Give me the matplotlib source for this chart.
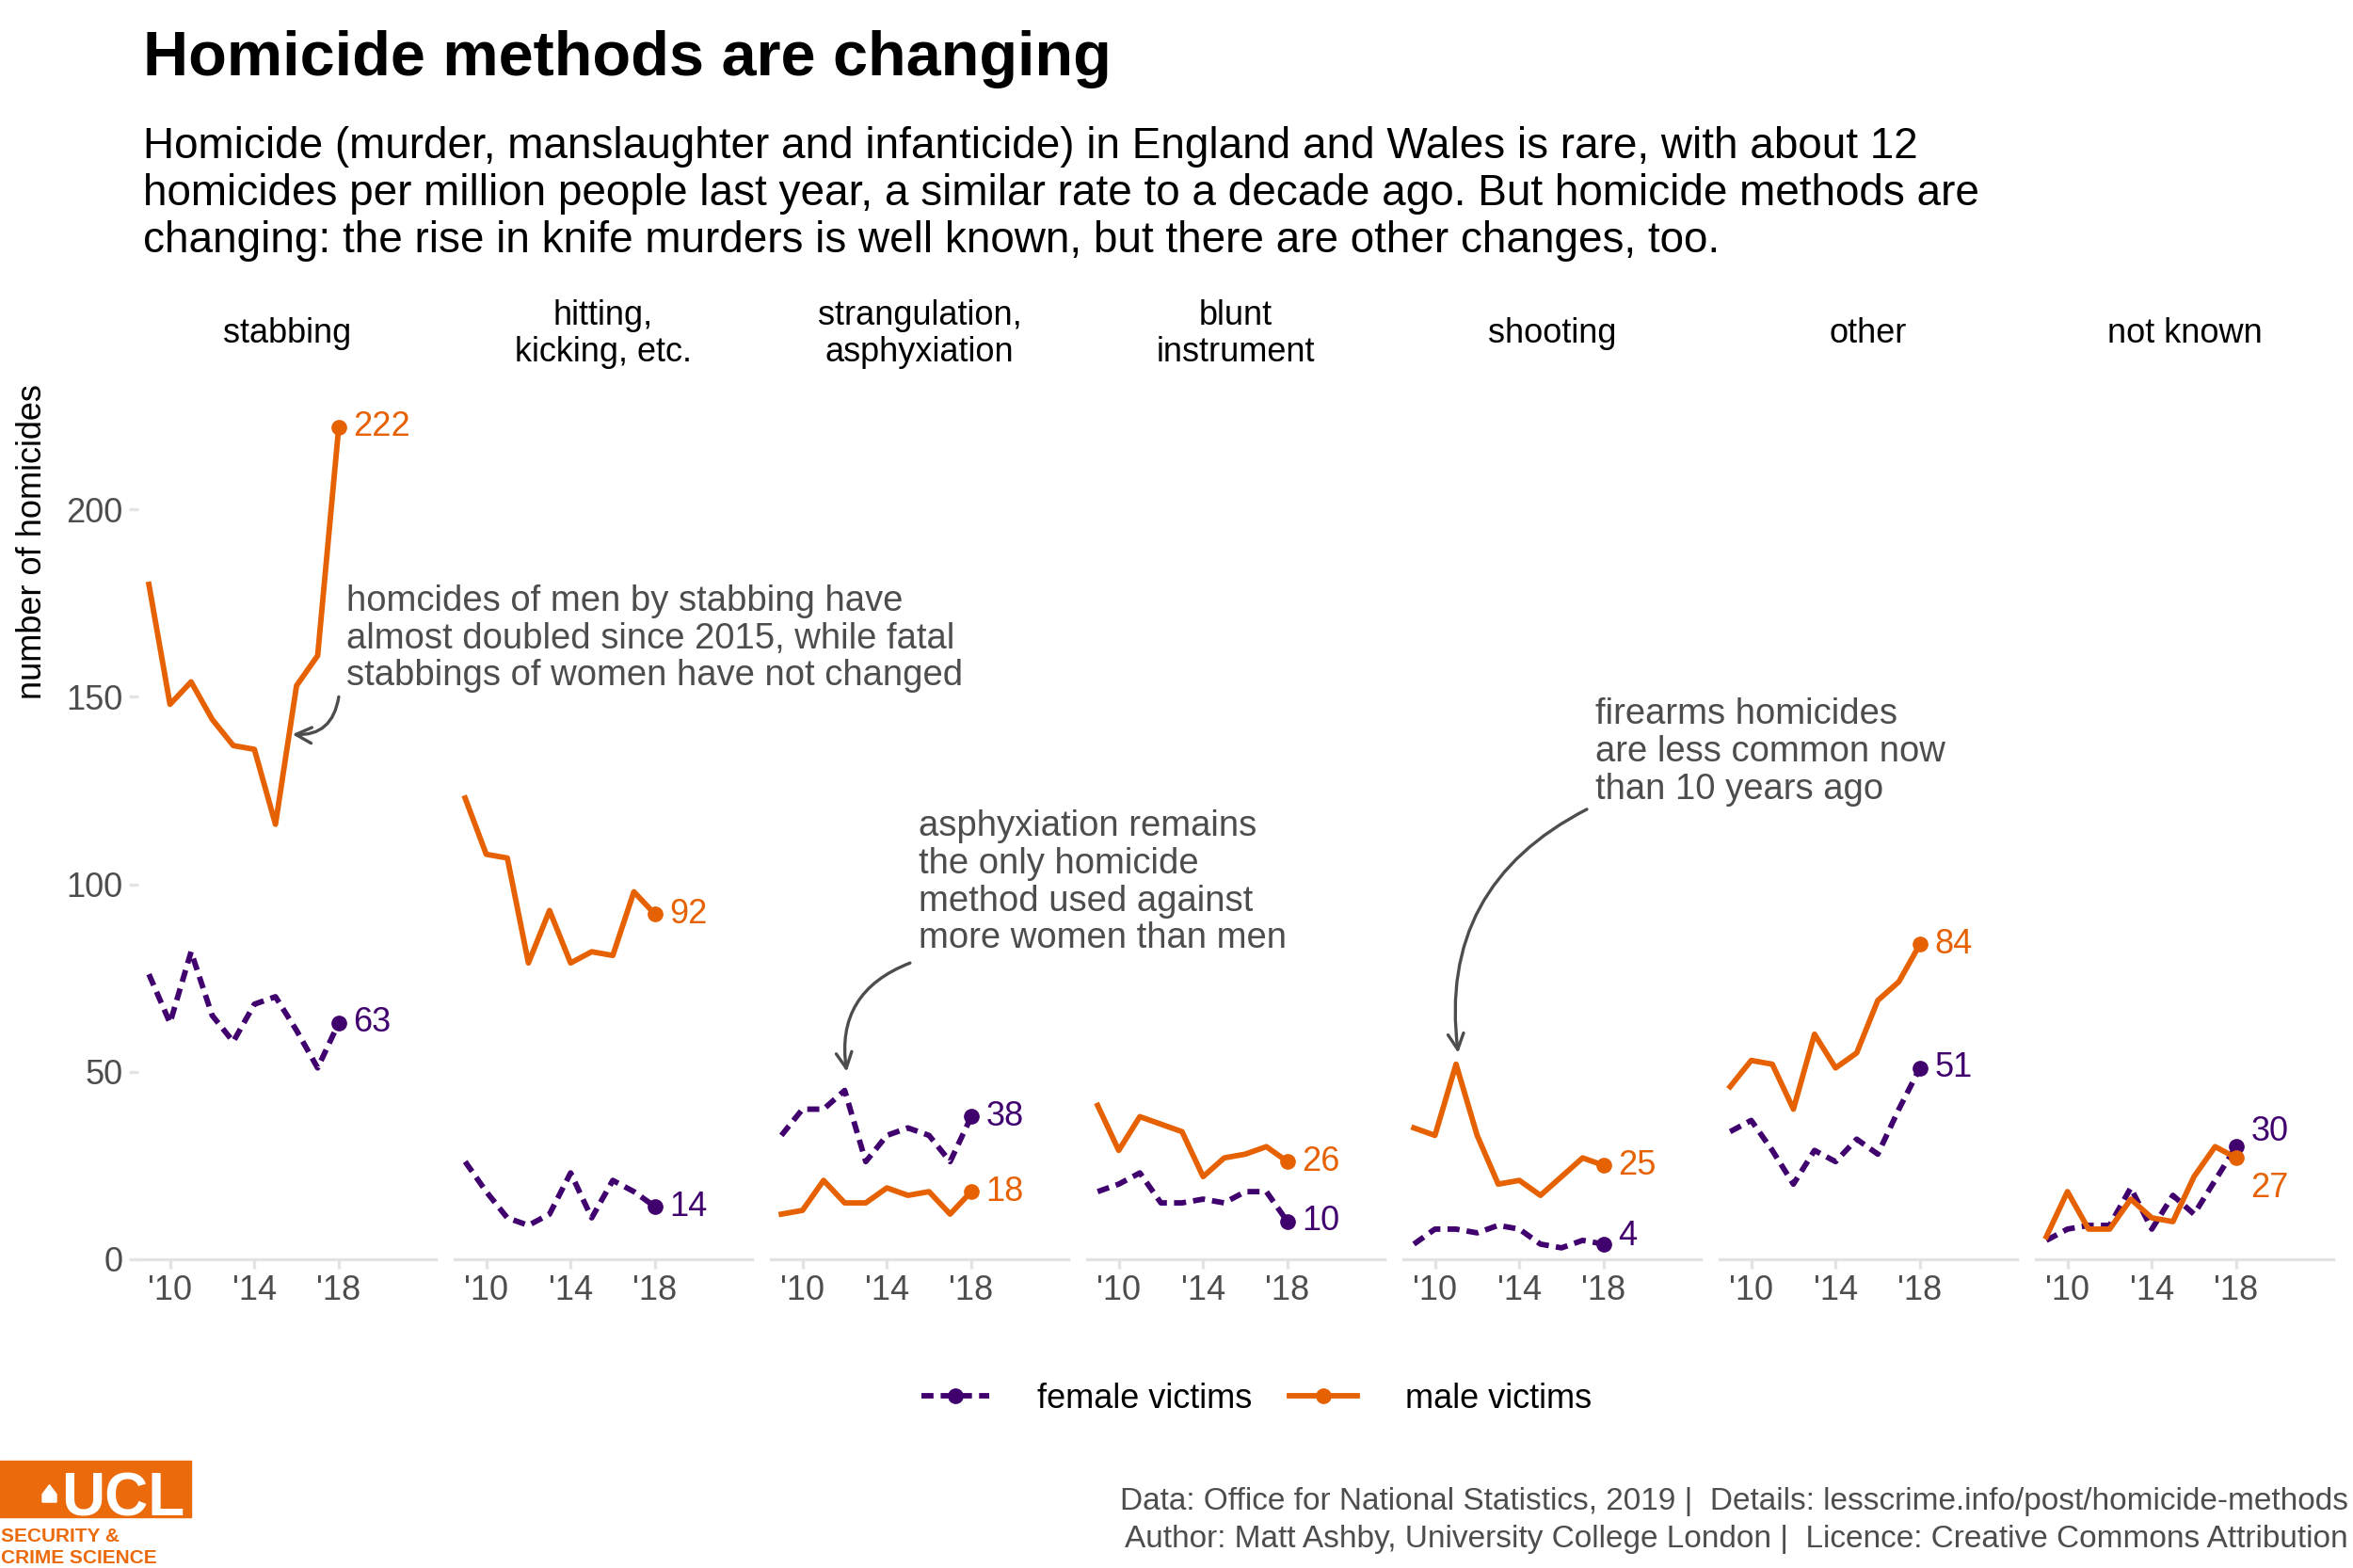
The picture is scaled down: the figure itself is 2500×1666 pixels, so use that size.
import matplotlib
matplotlib.use('Agg')
import matplotlib.pyplot as plt
from matplotlib.lines import Line2D
from matplotlib.patches import Rectangle, Polygon

plt.rcParams['font.family'] = ['Liberation Sans', 'DejaVu Sans']

# homicides in England and Wales by method, 2009-2018
years = [2009, 2010, 2011, 2012, 2013, 2014, 2015, 2016, 2017, 2018]
methods = ['stabbing', 'hitting,\nkicking, etc.', 'strangulation,\nasphyxiation',
           'blunt\ninstrument', 'shooting', 'other', 'not known']

female_stabbing = [76, 63, 82, 65, 58, 68, 70, 61, 51, 63]
female_hitting = [26, 18, 11, 9, 12, 23, 11, 21, 18, 14]
female_strangulation = [33, 40, 40, 45, 26, 33, 35, 33, 26, 38]
female_blunt = [18, 20, 23, 15, 15, 16, 15, 18, 18, 10]
female_shooting = [4, 8, 8, 7, 9, 8, 4, 3, 5, 4]
female_other = [34, 37, 29, 20, 29, 26, 32, 28, 40, 51]
female_unknown = [5, 8, 9, 9, 19, 8, 17, 12, 21, 30]

male_stabbing = [180, 148, 154, 144, 137, 136, 116, 153, 161, 222]
male_hitting = [123, 108, 107, 79, 93, 79, 82, 81, 98, 92]
male_strangulation = [12, 13, 21, 15, 15, 19, 17, 18, 12, 18]
male_blunt = [41, 29, 38, 36, 34, 22, 27, 28, 30, 26]
male_shooting = [35, 33, 52, 33, 20, 21, 17, 22, 27, 25]
male_other = [46, 53, 52, 40, 60, 51, 55, 69, 74, 84]
male_unknown = [6, 18, 8, 8, 16, 11, 10, 22, 30, 27]

female = [female_stabbing, female_hitting, female_strangulation, female_blunt,
          female_shooting, female_other, female_unknown]
male = [male_stabbing, male_hitting, male_strangulation, male_blunt,
        male_shooting, male_other, male_unknown]

x_ticks = [2010, 2014, 2018]
x_labels = ["'10", "'14", "'18"]
y_ticks = [0, 50, 100, 150, 200]

FEM = '#40006e'
MAL = '#e66101'
GREY = '#4d4d4d'
LIGHT = '#e3e3e3'
LW = 4.2
DASH = (2.2, 1.3)
MS = 11

# small vertical nudges for end labels that would overlap
nudge = {(6, 'f'): 4, (6, 'm'): -8, (4, 'f'): 2}

fig = plt.figure(figsize=(25, 16.66), dpi=100)

left, width, step = 0.0588, 0.1264, 0.1344
bottom, height = 0.197, 0.557

axes = []
for i, name in enumerate(methods):
    ax = fig.add_axes([left + i * step, bottom, width, height])
    axes.append(ax)
    ax.plot(years, female[i], color=FEM, lw=LW, dashes=DASH)
    ax.plot(years, male[i], color=MAL, lw=LW)
    ax.plot(years[-1], female[i][-1], 'o', color=FEM, ms=MS)
    ax.plot(years[-1], male[i][-1], 'o', color=MAL, ms=MS)
    ax.text(years[-1] + 0.7, female[i][-1] + nudge.get((i, 'f'), 0),
            str(female[i][-1]), color=FEM, fontsize=26, va='center', ha='left')
    ax.text(years[-1] + 0.7, male[i][-1] + nudge.get((i, 'm'), 0),
            str(male[i][-1]), color=MAL, fontsize=26, va='center', ha='left')

    ax.set_xlim(2008.5, 2022.6)
    ax.set_ylim(0, 233)
    for s in ['top', 'right', 'left']:
        ax.spines[s].set_visible(False)
    ax.spines['bottom'].set_color(LIGHT)
    ax.spines['bottom'].set_linewidth(2.4)
    ax.set_xticks(x_ticks)
    ax.set_xticklabels(x_labels)
    ax.tick_params(axis='x', length=7, width=2.4, color=LIGHT, labelsize=26,
                   labelcolor=GREY, pad=5)
    if i == 0:
        ax.set_yticks(y_ticks)
        ax.tick_params(axis='y', length=7, width=2.4, color=LIGHT, labelsize=26,
                       labelcolor=GREY, pad=5)
    else:
        ax.set_yticks([])
    ax.patch.set_alpha(0)

    fig.text(left + i * step + width / 2, 0.787, name, ha='center', va='center',
             fontsize=26, linespacing=1.15, multialignment='center')

# annotations
ann_kw = dict(color=GREY, fontsize=27.5, linespacing=1.13, ha='left', va='center',
              clip_on=False, zorder=5)
arr_kw = dict(arrowstyle='->', color=GREY, lw=2.4, mutation_scale=30,
              shrinkA=0, shrinkB=0)

axes[0].text(2018.35, 165.5, 'homcides of men by stabbing have\n'
             'almost doubled since 2015, while fatal\n'
             'stabbings of women have not changed', **ann_kw)
axes[0].annotate('', xy=(2015.8, 140), xytext=(2018.0, 150),
                 arrowprops=dict(connectionstyle='arc3,rad=-0.45', **arr_kw))

axes[2].text(2015.5, 100.4, 'asphyxiation remains\nthe only homicide\n'
             'method used against\nmore women than men', **ann_kw)
axes[2].annotate('', xy=(2012.1, 50), xytext=(2015.1, 79),
                 arrowprops=dict(connectionstyle='arc3,rad=0.4', **arr_kw))

axes[4].text(2017.6, 135.3, 'firearms homicides\nare less common now\n'
             'than 10 years ago', **ann_kw)
axes[4].annotate('', xy=(2011.1, 55), xytext=(2017.2, 120),
                 arrowprops=dict(connectionstyle='arc3,rad=0.35', **arr_kw))

fig.text(0.014, 0.755, 'number of homicides', rotation=90, ha='center', va='top',
         fontsize=26)

# titles
fig.text(0.0608, 0.952, 'Homicide methods are changing', fontsize=48,
         fontweight='bold', va='baseline', ha='left')
subtitle = ['Homicide (murder, manslaughter and infanticide) in England and Wales is rare, with about 12',
            'homicides per million people last year, a similar rate to a decade ago. But homicide methods are',
            'changing: the rise in knife murders is well known, but there are other changes, too.']
for k, line in enumerate(subtitle):
    fig.text(0.0608, 0.899 - k * 0.030, line, fontsize=33, va='baseline', ha='left')

# legend
handles = [Line2D([], [], color=FEM, lw=LW, dashes=DASH, marker='o', ms=MS),
           Line2D([], [], color=MAL, lw=LW, marker='o', ms=MS)]
fig.legend(handles, ['female victims', 'male victims'], loc='center',
           bbox_to_anchor=(0.534, 0.108), ncol=2, frameon=False, fontsize=26,
           handlelength=2.0, handletextpad=1.4, columnspacing=1.1, numpoints=1)

# caption
fig.text(0.998, 0.037, 'Data: Office for National Statistics, 2019 |  Details: lesscrime.info/post/homicide-methods',
         fontsize=24, color=GREY, ha='right', va='baseline')
fig.text(0.998, 0.013, 'Author: Matt Ashby, University College London |  Licence: Creative Commons Attribution',
         fontsize=24, color=GREY, ha='right', va='baseline')

# UCL logo
logo = '#ea6a0c'
narrow = ['Liberation Sans Narrow', 'Liberation Sans']
fig.patches.append(Rectangle((0, 0.0324), 0.0812, 0.036, transform=fig.transFigure,
                             color=logo, zorder=1))
fig.text(0.0262, 0.0335, 'UCL', color='white', fontsize=46, fontweight='bold',
         family=narrow, ha='left', va='baseline')
fig.patches.append(Polygon([(0.0180, 0.0420), (0.0240, 0.0420), (0.0240, 0.0470),
                            (0.0210, 0.0530), (0.0180, 0.0470)],
                           transform=fig.transFigure, color='white', zorder=2))
fig.text(0.0005, 0.0170, 'SECURITY &', color=logo, fontsize=15, fontweight='bold',
         family=narrow, ha='left', va='baseline')
fig.text(0.0005, 0.0030, 'CRIME SCIENCE', color=logo, fontsize=15, fontweight='bold',
         family=narrow, ha='left', va='baseline')

fig.savefig('out.png', dpi=100)
